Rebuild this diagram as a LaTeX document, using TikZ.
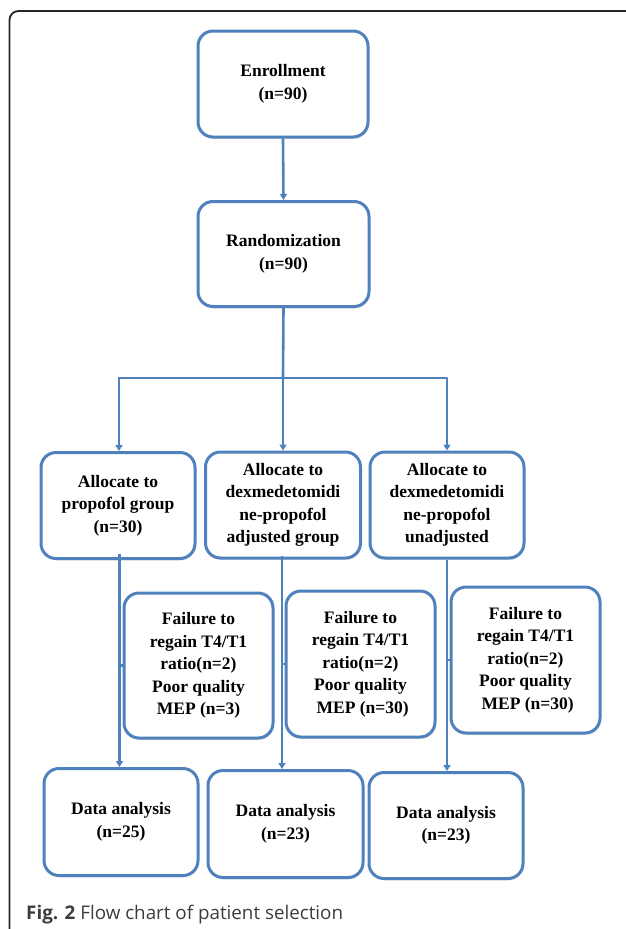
\documentclass[tikz,border=0pt]{standalone}
\usepackage{fontspec}
\setmainfont{Liberation Serif}
\newfontfamily\capfont{Open Sans}
\usepackage{tikz}
\usetikzlibrary{arrows.meta}
\usetikzlibrary{shadows}
\definecolor{boxblue}{RGB}{79,129,189}
\definecolor{capgray}{RGB}{60,60,60}
\tikzset{bx/.style={draw=boxblue,line width=3pt,rounded corners=15pt,fill=white,
    align=center,font=\fontsize{17.5}{22.5}\selectfont\bfseries,
    drop shadow={opacity=0.18,shadow xshift=1pt,shadow yshift=-2pt}}}
\tikzset{ln/.style={draw=boxblue,line width=2.6pt}}
\tikzset{ar/.style={ln,-{Triangle[width=7pt,length=6pt]}}}

\begin{document}
\begin{tikzpicture}[x=1pt,y=-1pt,line join=round]
          \useasboundingbox (0,0) rectangle (625,929);
          \draw[black!85,line width=1.8pt,rounded corners=9pt](640,11)--(9.5,11)--(9.5,935);
          % top
          \node[bx,minimum width=170pt,minimum height=106pt] (enr) at (283,84) {Enrollment\\(n=90)};
          \node[bx,minimum width=171pt,minimum height=105pt] (rand) at (283.5,254) {Randomization\\(n=90)};
          % allocation
          \node[bx,minimum width=154pt,minimum height=106pt] (al1) at (118,505.5) {Allocate to\\propofol group\\(n=30)};
          \node[bx,minimum width=155pt,minimum height=106pt] (al2) at (283,505) {Allocate to\\dexmedetomidi\\ne-propofol\\adjusted group};
          \node[bx,minimum width=154pt,minimum height=106pt] (al3) at (447,505) {Allocate to\\dexmedetomidi\\ne-propofol\\unadjusted};
          % excluded
          \node[bx,minimum width=149pt,minimum height=145pt] (fl1) at (198.5,665.5) {Failure to\\regain T4/T1\\ratio(n=2)\\Poor quality\\MEP (n=3)};
          \node[bx,minimum width=149pt,minimum height=146pt] (fl2) at (360.5,664) {Failure to\\regain T4/T1\\ratio(n=2)\\Poor quality\\\ MEP (n=30)};
          \node[bx,minimum width=149pt,minimum height=146pt] (fl3) at (525.5,660) {Failure to\\regain T4/T1\\ratio(n=2)\\Poor quality\\\ MEP (n=30)};
          % analysis
          \node[bx,minimum width=154pt,minimum height=107pt] (da1) at (121,822) {Data analysis\\(n=25)};
          \node[bx,minimum width=155pt,minimum height=107pt] (da2) at (285.5,824) {Data analysis\\(n=23)};
          \node[bx,minimum width=154pt,minimum height=106pt] (da3) at (446,825.5) {Data analysis\\(n=23)};
          % connectors
          \coordinate (split) at (283,378);
          \draw[ar](enr.south)--(rand.north);
          \draw[ln](rand.south)--(split);
          \draw[ar](split)--(al2.north);
          \draw[ar](split)-|([xshift=1pt]al1.north);
          \draw[ar](split)-|(al3.north);
          \draw[ar]([xshift=1.5pt,yshift=6pt]al1.south)--([xshift=1.5pt]al1.south |- da1.north);
          \draw[ar]([xshift=-1pt,yshift=4pt]al2.south)--([xshift=-1pt]al2.south |- da2.north);
          \draw[ar](al3.south)--(al3.south |- da3.north);
          \draw[ln]([xshift=1.5pt]al1.south |- fl1.west)--(fl1.west);
          \draw[ln]([xshift=-1pt]al2.south |- fl2.west)--(fl2.west);
          \draw[ln](al3.south |- fl3.west)--(fl3.west);
          % caption
          \node[anchor=base west,inner sep=0pt,text=capgray,font=\capfont\fontsize{18.8}{18.8}\selectfont] (cap) at (26,919) {\textbf{Fig. 2} Flow chart of patient selection};
\end{tikzpicture}
\end{document}
